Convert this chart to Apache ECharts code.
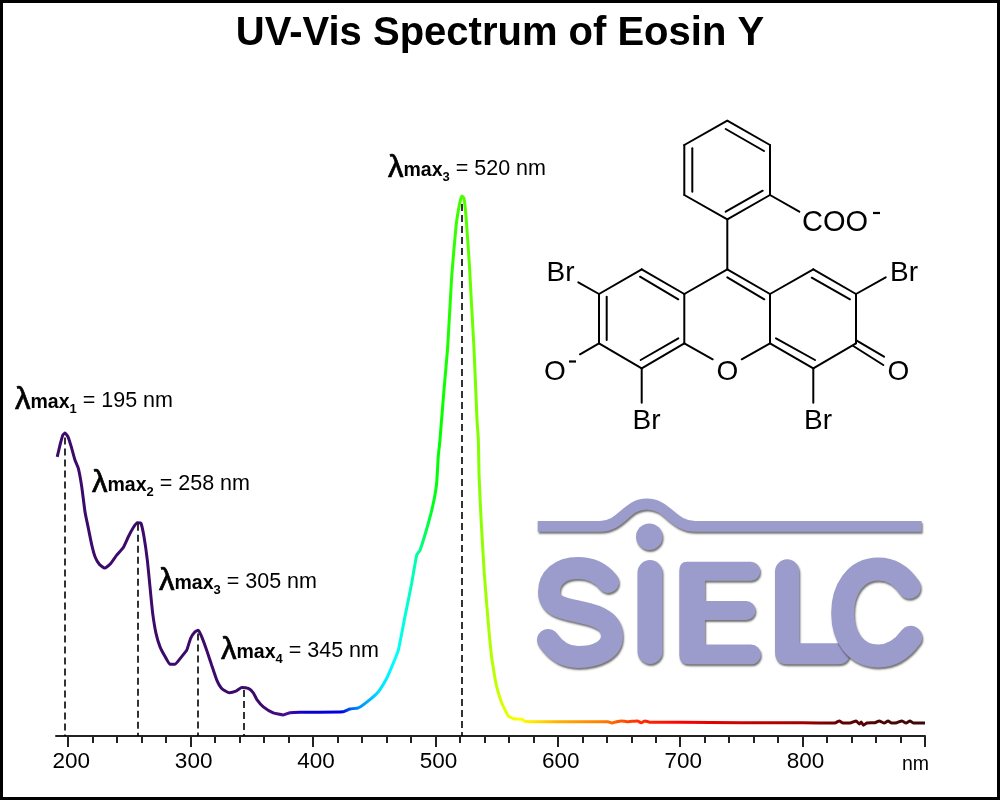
<!DOCTYPE html>
<html>
<head>
<meta charset="utf-8">
<style>html,body{margin:0;padding:0;background:#fff}#c{width:1000px;height:800px}</style>
<script src="https://cdn.jsdelivr.net/npm/echarts@6/dist/echarts.min.js"></script>
</head>
<body>
<div id="c"></div>
<script>
const titleText = 'UV-Vis Spectrum of Eosin Y';
const axisUnit = 'nm';
const wavelengths = [191,193.3,195.5,197.4,200,202.8,205.5,208.2,211,213.7,216.4,219.2,221.9,225.4,229.8,234.1,239.6,245,249.1,253.2,256.4,259.4,261.9,264.6,266.8,269,271.7,275,279.1,283.1,287.2,292.7,296.8,300,303.6,306.3,309,313.1,317.2,321.3,325.4,331.6,337,341.7,347.1,351.2,354,359.4,367.5,375.7,381.2,389.3,424.7,430.2,437,445.2,453.4,460.2,465.6,469.7,475.1,480.6,484.7,487.4,494.2,498.3,501,502.3,503.7,507,510,513.3,516.8,519.5,521.5,523.3,525,527.7,529.6,531.5,534,535.1,535.6,537.2,539.9,543.2,545.9,548.7,550.1,554.2,559.6,563.7,570.5,573.3,600,641,644.3,648,652,656.5,665,668,671.3,675,700,750,800,826.4,830,833,838.7,843.7,846.4,847.8,849.7,852.4,859.1,862.6,866.7,869.8,872.8,877,881,884.5,887.7,890.4,900];
const absorbance = [.517,.539,.557,.561,.553,.533,.511,.496,.462,.415,.385,.354,.332,.318,.311,.318,.335,.349,.369,.386,.395,.394,.369,.326,.276,.227,.190,.165,.147,.133,.133,.147,.159,.181,.193,.196,.184,.159,.131,.104,.088,.080,.083,.090,.088,.080,.068,.054,.043,.039,.043,.044,.045,.050,.052,.065,.082,.107,.135,.159,.221,.283,.335,.344,.394,.431,.468,.517,.548,.641,.719,.851,.943,.983,1,.996,.962,.875,.795,.719,.585,.548,.487,.406,.302,.209,.147,.107,.091,.061,.037,.032,.031,.027,.0265,.0265,.024,.0265,.028,.0265,.028,.0245,.028,.0255,.0255,.0245,.0245,.024,.028,.024,.024,.028,.022,.026,.020,.024,.0246,.028,.024,.028,.024,.0246,.028,.024,.028,.024,.024];
const peakWavelengths = [197.4,257,306,343.7,521.8];
const peakHeights = [.553,.393,.19,.085,.985];
const peakLabels = [
  ['1','195'],['2','258'],['3','305'],['4','345'],['3','520']
];
const majorTicks = [200,300,400,500,600,700,800,900];
const labelTicks = [200,300,400,500,600,700,800];
const minorTicks = [220,240,260,280,320,340,360,380,420,440,460,480,520,540,560,580,620,640,660,680,720,740,760,780,820,840,860,880];
const stopWavelengths = [191,360,380,389,395,424,430,438,446,454,467,484,498,504,528,545,557,570,600,634,665,700,760,800,830,900];
const stopColors = ['#3c0a6b','#3c0a6b','#4a1090','#2000c0','#0a00d0','#0000e0','#0050f0','#0090ff','#00b0ff','#00e0ff','#00ffff','#00ffb0','#00ff20','#00ff00','#60ff00','#b0ff00','#e0ff00','#ffff00','#ffb000','#ff8000','#ff3000','#ff0000','#c00000','#a00000','#600000','#3a0808'];

const chart = echarts.init(document.getElementById('c'), null, {renderer:'canvas'});
const ink = '#000';
const logo = '#9c9ccc';
const logoShadow = {shadowBlur:2, shadowOffsetX:1, shadowOffsetY:2, shadowColor:'rgba(0,0,0,0.55)'};
const spanW = stopWavelengths[stopWavelengths.length-1]-stopWavelengths[0];
const gradient = new echarts.graphic.LinearGradient(0,0,1,0,
  stopWavelengths.map((w,i)=>({offset:(w-stopWavelengths[0])/spanW,color:stopColors[i]})));

const bonds = [
 [727.3,120.7,770,145],[770,145,770,195],[770,195,727.3,219.3],[727.3,219.3,684.3,195],[684.3,195,684.3,145],[684.3,145,727.3,120.7],
 [725.7,129,764,151],[692.3,148.3,692.3,191.7],[725.7,211.7,762.7,190.7],[770,195,799.3,211.7],[727.3,219.3,727.3,269.3],
 [727.3,269.3,770,294],[770,294,813.3,269.3],[813.3,269.3,856,294],[856,294,856,343.3],[856,343.3,813.3,368.3],[813.3,368.3,770,343.3],[770,343.3,770,294],
 [727.3,269.3,684.3,294],[684.3,294,641.7,269.3],[641.7,269.3,599,294],[599,294,599,343.3],[599,343.3,641.7,368.3],[641.7,368.3,684.3,343.3],[684.3,343.3,684.3,294],
 [684.3,343.3,712.7,359.3],[770,343.3,741.7,359.3],
 [727.3,277.3,764.3,299.3],[811.7,277.7,850,299.3],[640,276.7,678.3,299.3],[606.7,296.7,606.7,340],[640.7,360,678.3,338.3],[776,338.3,815,360],
 [856.7,340.7,884,356.7],[853.3,346,883.3,365],[599,294,578.3,282.3],[856,294,885.7,277.3],[599,343.3,580,354.3],[641.7,368.3,641.7,402.7],[813.3,368.3,813.3,402.7]
];
const atoms = [
 ['COO',802,223,'left',29],['Br',546.5,273,'left',28],['Br',890,273,'left',28],['O',555,372,'center',28],['O',727.3,372,'center',28],['O',898.3,372,'center',28],['Br',632.5,421.5,'left',28],['Br',804,421.5,'left',28]
];
const charges = [[876.5,213],[572.5,361.5]];
const labelSpots = [[15,400],[92,483],[159,581],[221,650],[388,168]];

const graphics = [
 {type:'rect',z:100,silent:true,shape:{x:1.5,y:1.5,width:997,height:797},style:{fill:'none',stroke:'#000',lineWidth:3}},
 {type:'text',z:100,silent:true,x:500,y:34,style:{text:titleText,fill:'#000',font:'bold 40px "Liberation Sans"',textAlign:'center',textVerticalAlign:'middle'}},
 {type:'text',z:100,silent:true,x:902,y:765,style:{text:axisUnit,fill:'#000',font:'19.5px "Liberation Sans"',textAlign:'left',textVerticalAlign:'middle'}}
];
bonds.forEach(b=>graphics.push({type:'line',silent:true,shape:{x1:b[0],y1:b[1],x2:b[2],y2:b[3]},style:{stroke:ink,lineWidth:2,lineCap:'round'}}));
atoms.forEach(a=>graphics.push({type:'text',silent:true,x:a[1],y:a[2],style:{text:a[0],fill:ink,font:a[4]+'px "Liberation Sans"',textAlign:a[3],textVerticalAlign:'middle'}}));
charges.forEach(c=>graphics.push({type:'line',silent:true,shape:{x1:c[0]-3.5,y1:c[1],x2:c[0]+3.5,y2:c[1]},style:{stroke:ink,lineWidth:2.2}}));
labelSpots.forEach((s,i)=>graphics.push({type:'text',silent:true,x:s[0],y:s[1],style:{
  text:`{l|λ}{m|max}{s|${peakLabels[i][0]}}{r| = ${peakLabels[i][1]} nm}`,
  textVerticalAlign:'middle',
  rich:{
   l:{font:'31px "Liberation Sans"',fill:'#000',stroke:'#000',lineWidth:0.7,verticalAlign:'bottom'},
   m:{font:'bold 19.5px "Liberation Sans"',fill:'#000',verticalAlign:'bottom',padding:[0,0,3,0]},
   s:{font:'bold 13px "Liberation Sans"',fill:'#000',verticalAlign:'bottom'},
   r:{font:'21.5px "Liberation Sans"',fill:'#000',verticalAlign:'bottom',padding:[0,0,3,0]}
  }}}));
// SIELC logo
function addLogoShape(name,pathData,style){
  echarts.graphic.registerShape(name,echarts.graphic.extendPath(pathData,{}));
  graphics.push({type:name,silent:true,style:Object.assign({},style,logoShadow)});
}
graphics.push({type:'circle',silent:true,shape:{cx:649.3,cy:536.7,r:13.3},style:Object.assign({fill:logo},logoShadow)});
addLogoShape('logoE','M687 561.7 L750.7 561.7 A9.5 9.5 0 0 1 750.7 580.7 L705 580.7 L705 601 L746 601 A9.5 9.5 0 0 1 746 620 L705 620 L705 644.5 L751 644.5 A9.9 9.9 0 0 1 751 664.3 L689 664.3 Q679.3 664.3 679.3 655 L679.3 571 Q679.3 561.7 687 561.7 Z',{fill:logo});
addLogoShape('logoL','M775 571.5 A12.15 12.15 0 0 1 799.3 571.5 L799.3 643.3 L850 643.3 L850 655 Q848 664.3 838 664.3 L787 664.3 Q775 664.3 775 652 Z',{fill:logo});
addLogoShape('logoBar','M537.7 526.3 L600 526.3 C622 526.3 626 504 646.7 504 C668 504 672 526.3 695 526.3 L921.7 526.3',{fill:'none',stroke:logo,lineWidth:10.8,lineCap:'butt'});
addLogoShape('logoS','M608 582 C600 572 590 568 578 568 C560 568 549 578 549 592 C549 606 562 608 580 612 C600 616 612 622 612 636 C612 650 596 657 578 657 C565 657 555 650 548 640',{fill:'none',stroke:logo,lineWidth:22,lineCap:'round'});
addLogoShape('logoI','M650 572.5 L650 651.5',{fill:'none',stroke:logo,lineWidth:25,lineCap:'round'});
addLogoShape('logoC','M909.3 587.3 C901 575 890 569 878.3 569 C855 569 842.7 590 842.7 613 C842.7 636 855 656 878.3 656 C892 656 903 648 910.7 637.3',{fill:'none',stroke:logo,lineWidth:23,lineCap:'round'});

chart.setOption({
 animation:false,
 backgroundColor:'#fff',
 grid:{left:56,right:75,top:88,height:648,containLabel:false},
 xAxis:[{
   type:'value',min:190,max:900,position:'bottom',
   splitLine:{show:false},
   axisLine:{show:true,lineStyle:{color:'#222',width:2}},
   axisTick:{show:true,length:11,customValues:majorTicks,lineStyle:{color:'#222',width:2}},
   axisLabel:{show:true,customValues:labelTicks,margin:14,fontSize:22.5,color:'#000',fontFamily:'Liberation Sans',padding:[0,0,0,6]}
 },{
   type:'value',min:190,max:900,position:'bottom',
   splitLine:{show:false},
   axisLine:{show:false},
   axisLabel:{show:false},
   axisTick:{show:true,length:7,customValues:minorTicks,lineStyle:{color:'#222',width:2}}
 }],
 yAxis:{type:'value',min:0,max:1.2,show:false,splitLine:{show:false}},
 series:[{
   name:'Peaks',type:'line',data:[],z:2,silent:true,
   markLine:{silent:true,symbol:'none',animation:false,label:{show:false},
     lineStyle:{color:'#000',width:1.6,type:[7,4]},
     data:peakWavelengths.map((w,i)=>[{coord:[w,peakHeights[i]]},{coord:[w,0]}])}
 },{
   name:'Eosin Y',type:'line',z:3,silent:true,showSymbol:false,smooth:0.15,clip:false,
   data:wavelengths.map((w,i)=>[w,absorbance[i]]),
   lineStyle:{width:3,color:gradient}
 }],
 graphic:{elements:graphics}
});
</script>
</body>
</html>
